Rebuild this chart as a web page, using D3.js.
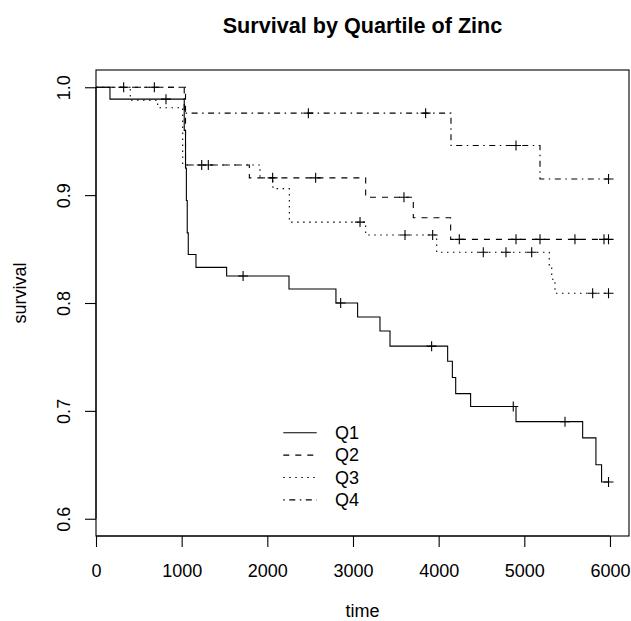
<!DOCTYPE html>
<html>
<head>
<meta charset="utf-8">
<script src="https://cdn.jsdelivr.net/npm/d3@7"></script>
<style>
  html, body { margin: 0; padding: 0; background: #fff; }
  svg { display: block; }
  text { font-family: "Liberation Sans", Arial, Helvetica, sans-serif; fill: #000; }
</style>
</head>
<body>
<svg id="chart" width="631" height="621"></svg>
<script>
// ---- data ----
const seriesNames = ["Q1", "Q2", "Q3", "Q4"];
const endTime = 5983;

const q1Times = [0, 163, 1030, 1045, 1055, 1065, 1077, 1167, 1525, 2253, 2801, 3054, 3315, 3432, 4105, 4160, 4199, 4373, 4903, 5681, 5836, 5902];
const q1Surv  = [1.0, 0.989, 0.96, 0.925, 0.895, 0.865, 0.845, 0.833, 0.825, 0.813, 0.800, 0.787, 0.774, 0.760, 0.746, 0.731, 0.716, 0.704, 0.690, 0.675, 0.650, 0.634];
const q1Censor = [817, 1717, 2856, 3918, 4871, 5475, 5983];

const q2Times = [0, 1045, 1790, 3148, 3704, 4140];
const q2Surv  = [1.0, 0.928, 0.916, 0.898, 0.879, 0.859];
const q2Censor = [323, 681, 1234, 1311, 2062, 2564, 3595, 4241, 4903, 5183, 5591, 5930, 5983];

const q3Times = [0, 400, 720, 1012, 1914, 2065, 2257, 3148, 3977, 5291, 5320, 5358];
const q3Surv  = [1.0, 0.988, 0.981, 0.928, 0.916, 0.906, 0.875, 0.863, 0.847, 0.835, 0.822, 0.809];
const q3Censor = [3082, 3607, 3930, 4521, 4786, 5086, 5798, 5983];

const q4Times = [0, 1030, 4144, 5183];
const q4Surv  = [1.0, 0.976, 0.946, 0.915];
const q4Censor = [2479, 3848, 4903, 5983];

const xTicks = [0, 1000, 2000, 3000, 4000, 5000, 6000];
const yTicks = [0.6, 0.7, 0.8, 0.9, 1.0];

const titleText = "Survival by Quartile of Zinc";
const xLabel = "time";
const yLabel = "survival";

// ---- layout ----
const svg = d3.select("#chart");
const L = 96, R = 629, T = 70, B = 536;
const x = d3.scaleLinear().domain([0, 6222]).range([L, R]);
const y = d3.scaleLinear().domain([0.584, 1.016]).range([B, T]);

const dashes = ["none", "6,6", "1.5,4.5", "1.5,4.5,6,4.5"];
const series = [
  {times: q1Times, surv: q1Surv, censor: q1Censor},
  {times: q2Times, surv: q2Surv, censor: q2Censor},
  {times: q3Times, surv: q3Surv, censor: q3Censor},
  {times: q4Times, surv: q4Surv, censor: q4Censor}
];

function survAt(s, t) {
  let v = s.surv[0];
  for (let i = 0; i < s.times.length; i++) if (s.times[i] <= t) v = s.surv[i];
  return v;
}

const line = d3.line().x(d => x(d[0])).y(d => y(d[1])).curve(d3.curveStepAfter);

const plot = svg.append("g");
series.forEach((s, i) => {
  const pts = s.times.map((t, k) => [t, s.surv[k]]);
  pts.push([endTime, s.surv[s.surv.length - 1]]);
  plot.append("path")
    .attr("d", line(pts))
    .attr("fill", "none")
    .attr("stroke", "#000")
    .attr("stroke-width", 1.1)
    .attr("stroke-dasharray", dashes[i]);
  s.censor.forEach(t => {
    const cx = x(t), cy = y(survAt(s, t));
    plot.append("path")
      .attr("d", `M${cx - 5},${cy}H${cx + 5}M${cx},${cy - 5}V${cy + 5}`)
      .attr("stroke", "#000").attr("stroke-width", 1.1).attr("fill", "none");
  });
});

// box
svg.append("rect").attr("x", L).attr("y", T).attr("width", R - L).attr("height", B - T)
  .attr("fill", "none").attr("stroke", "#000").attr("stroke-width", 1.1);

// x axis
const xAxis = svg.append("g").attr("transform", `translate(0,${B})`)
  .call(d3.axisBottom(x).tickValues(xTicks).tickFormat(d3.format("d")).tickSize(11).tickSizeOuter(0));
xAxis.select(".domain").attr("d", `M${x(0)},0H${x(6000)}`).attr("stroke-width", 1.1);
xAxis.selectAll(".tick line").attr("stroke-width", 1.1);
xAxis.selectAll(".tick text").attr("y", 0).attr("dy", 0).attr("transform", "translate(0,40.7)")
  .style("font-size", "18px").style("font-family", "Liberation Sans, Arial, sans-serif");

// y axis
const yAxis = svg.append("g").attr("transform", `translate(${L},0)`)
  .call(d3.axisLeft(y).tickValues(yTicks).tickFormat(d3.format(".1f")).tickSize(11).tickSizeOuter(0));
yAxis.select(".domain").attr("d", `M0,${y(0.6)}V${y(1.0)}`).attr("stroke-width", 1.1);
yAxis.selectAll(".tick line").attr("stroke-width", 1.1);
yAxis.selectAll(".tick text")
  .attr("x", 0).attr("dy", 0)
  .attr("text-anchor", "middle")
  .attr("transform", "translate(-26,0) rotate(-90)")
  .style("font-size", "18px").style("font-family", "Liberation Sans, Arial, sans-serif");

// title and labels
svg.append("text").attr("x", (L + R) / 2).attr("y", 32.7).attr("text-anchor", "middle")
  .style("font-size", "21.6px").style("font-weight", "bold").text(titleText);
svg.append("text").attr("x", (L + R) / 2).attr("y", 617).attr("text-anchor", "middle")
  .style("font-size", "18px").text(xLabel);
svg.append("text").attr("transform", `translate(26,293) rotate(-90)`).attr("text-anchor", "middle")
  .style("font-size", "18px").text(yLabel);

// legend
const leg = svg.append("g");
seriesNames.forEach((nm, i) => {
  const ly = 432.7 + i * 22.4;
  leg.append("line").attr("x1", 283.3).attr("x2", 316.7).attr("y1", ly).attr("y2", ly)
    .attr("stroke", "#000").attr("stroke-width", 1.1).attr("stroke-dasharray", dashes[i]);
  leg.append("text").attr("x", 335).attr("y", ly).attr("dy", "0.35em")
    .style("font-size", "18px").text(nm);
});
</script>
</body>
</html>
